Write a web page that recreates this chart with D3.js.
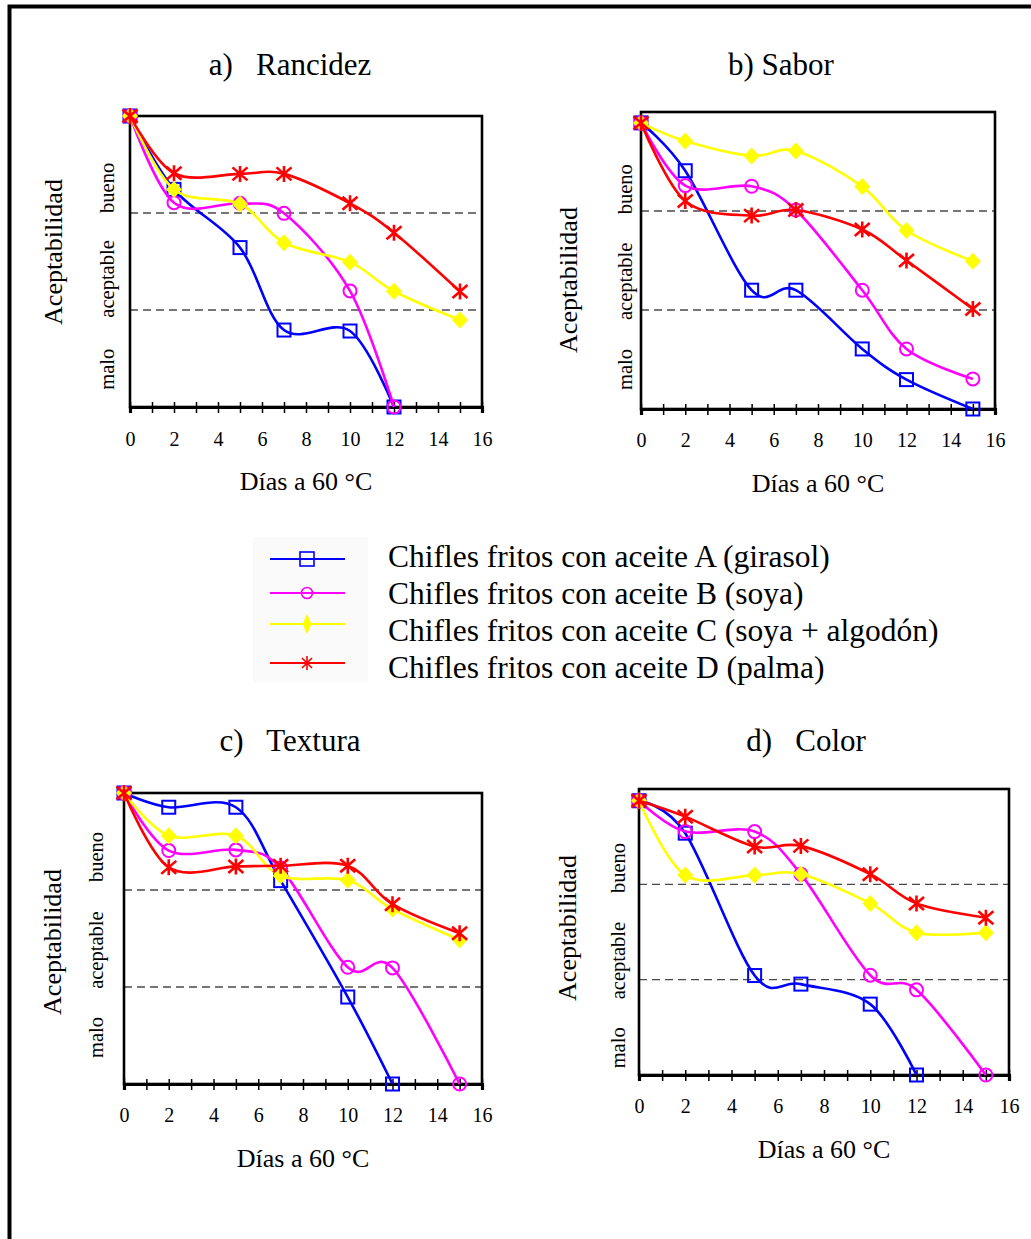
<!DOCTYPE html>
<html>
<head>
<meta charset="utf-8">
<script src="https://cdn.jsdelivr.net/npm/d3@7"></script>
<style>
  body { margin: 0; background: #fff; }
  svg { display: block; }
  text { font-family: "Liberation Serif", "Times New Roman", serif; fill: #000; white-space: pre; }
</style>
</head>
<body>
<svg id="chart" width="1031" height="1239"></svg>
<script>
// Sampling days (x) and axis ticks
const days = [0, 2, 5, 7, 10, 12, 15];
const xTickValues = [0, 2, 4, 6, 8, 10, 12, 14, 16];
const xMinorTicks = d3.range(0, 17);

// Acceptability bands and their limits on the 0-9 score
const levelLabels = ["bueno", "aceptable", "malo"];
const levelCuts = [6, 3];

// Series
const seriesLabels = [
  "Chifles fritos con aceite A (girasol)",
  "Chifles fritos con aceite B (soya)",
  "Chifles fritos con aceite C (soya + algodón)",
  "Chifles fritos con aceite D (palma)"
];
const seriesColors = ["#0000ff", "#ff00ff", "#ffff00", "#ff0000"];
const seriesShapes = ["square", "circle", "diamond", "star"];

// a) Rancidez
const rancidezA = [9, 6.73, 4.93, 2.38, 2.35, 0];
const rancidezB = [9, 6.32, 6.30, 5.99, 3.59, 0];
const rancidezC = [9, 6.73, 6.28, 5.08, 4.48, 3.58, 2.69];
const rancidezD = [9, 7.23, 7.21, 7.21, 6.30, 5.39, 3.57];
// b) Sabor
const saborA = [8.67, 7.22, 3.60, 3.60, 1.82, 0.89, 0];
const saborB = [8.67, 6.77, 6.75, 6.03, 3.60, 1.82, 0.91];
const saborC = [8.67, 8.12, 7.67, 7.82, 6.74, 5.41, 4.48];
const saborD = [8.67, 6.30, 5.86, 6.03, 5.44, 4.50, 3.03];
// c) Textura
const texturaA = [9, 8.56, 8.56, 6.29, 2.69, 0];
const texturaB = [9, 7.22, 7.24, 6.68, 3.61, 3.59, 0];
const texturaC = [9, 7.68, 7.68, 6.44, 6.30, 5.41, 4.46];
const texturaD = [9, 6.70, 6.73, 6.75, 6.75, 5.56, 4.66];
// d) Color
const colorA = [8.63, 7.61, 3.13, 2.86, 2.23, 0];
const colorB = [8.63, 7.66, 7.66, 6.32, 3.14, 2.68, 0];
const colorC = [8.63, 6.29, 6.29, 6.32, 5.40, 4.48, 4.48];
const colorD = [8.63, 8.13, 7.19, 7.21, 6.32, 5.40, 4.95];

// Panel layout
const panels = [
  { title: "a)   Rancidez", series: [rancidezA, rancidezB, rancidezC, rancidezD],
    x0: 130, x1: 482, y0: 116, y1: 407, titleX: 290, titleY: 75,
    yTitle: [53, 252], catX: 107, catPos: [0.247, 0.56, 0.87], tickDy: 39 },
  { title: "b) Sabor", series: [saborA, saborB, saborC, saborD],
    x0: 641, x1: 995, y0: 112, y1: 409, titleX: 781, titleY: 75,
    yTitle: [568, 280], catX: 625, catPos: [0.26, 0.57, 0.867], tickDy: 38 },
  { title: "c)   Textura", series: [texturaA, texturaB, texturaC, texturaD],
    x0: 124, x1: 482, y0: 793, y1: 1084, titleX: 290, titleY: 751,
    yTitle: [52, 942], catX: 96, catPos: [0.22, 0.54, 0.84], tickDy: 38 },
  { title: "d)   Color", series: [colorA, colorB, colorC, colorD],
    x0: 639, x1: 1009, y0: 789, y1: 1075, titleX: 806, titleY: 751,
    yTitle: [567, 928], catX: 618, catPos: [0.276, 0.6, 0.905], tickDy: 38 }
];

const svg = d3.select("#chart");

// Outer border (runs off the right and bottom edges)
svg.append("rect")
  .attr("x", 9.5).attr("y", 6.5)
  .attr("width", 1060).attr("height", 1280)
  .attr("fill", "none").attr("stroke", "#000").attr("stroke-width", 4);

function drawMarker(g, shape, color) {
  if (shape === "square") {
    g.append("rect").attr("x", -6.5).attr("y", -6.5)
      .attr("width", 13).attr("height", 13)
      .attr("fill", "none").attr("stroke", color).attr("stroke-width", 2);
  } else if (shape === "circle") {
    g.append("circle").attr("r", 6.5)
      .attr("fill", "none").attr("stroke", color).attr("stroke-width", 2);
  } else if (shape === "diamond") {
    g.append("path").attr("d", "M0,-8.5L8,0L0,8.5L-8,0Z")
      .attr("fill", color).attr("stroke", "none");
  } else {
    g.append("path")
      .attr("d", "M0,-8L0,8M-7.5,-6.5L7.5,6.5M-7.5,6.5L7.5,-6.5")
      .attr("fill", "none").attr("stroke", color).attr("stroke-width", 2.6);
  }
}

panels.forEach(p => {
  const x = d3.scaleLinear().domain([0, 16]).range([p.x0, p.x1]);
  const y = d3.scaleLinear().domain([0, 9]).range([p.y1, p.y0]);
  const g = svg.append("g");

  // title
  g.append("text").attr("x", p.titleX).attr("y", p.titleY)
    .attr("text-anchor", "middle").attr("font-size", 31).text(p.title);

  // band limits
  g.selectAll("line.cut").data(levelCuts).join("line")
    .attr("x1", p.x0).attr("x2", p.x1)
    .attr("y1", d => y(d)).attr("y2", d => y(d))
    .attr("stroke", "#4a4a4a").attr("stroke-width", 1.3)
    .attr("stroke-dasharray", "8,5");

  // frame
  g.append("rect").attr("x", p.x0).attr("y", p.y0)
    .attr("width", p.x1 - p.x0).attr("height", p.y1 - p.y0)
    .attr("fill", "none").attr("stroke", "#000").attr("stroke-width", 2.6);

  // x axis: tick marks at every day, labels every second day
  const axis = d3.axisBottom(x).tickValues(xMinorTicks)
    .tickFormat(d => (xTickValues.includes(d) ? d : ""));
  const ax = g.append("g").attr("transform", `translate(0,${p.y1})`).call(axis);
  ax.select(".domain").attr("stroke", "#000").attr("stroke-width", 3.2);
  ax.selectAll(".tick line").attr("y1", -5).attr("y2", 6)
    .attr("stroke", "#000").attr("stroke-width", 1.5);
  ax.selectAll(".tick text").attr("y", p.tickDy).attr("dy", null)
    .attr("font-size", 20).attr("fill", "#000")
    .style("font-family", '"Liberation Serif", "Times New Roman", serif');

  // x title
  g.append("text").attr("x", (p.x0 + p.x1) / 2).attr("y", p.y1 + 83)
    .attr("text-anchor", "middle").attr("font-size", 26).text("Días a 60 °C");

  // y title
  g.append("text")
    .attr("transform", `translate(${p.yTitle[0]},${p.yTitle[1]}) rotate(-90)`)
    .attr("text-anchor", "middle").attr("dominant-baseline", "central")
    .attr("font-size", 26).text("Aceptabilidad");

  // band labels
  levelLabels.forEach((lab, i) => {
    const cy = p.y0 + p.catPos[i] * (p.y1 - p.y0);
    g.append("text")
      .attr("transform", `translate(${p.catX},${cy}) rotate(-90)`)
      .attr("text-anchor", "middle").attr("dominant-baseline", "central")
      .attr("font-size", 20.5).text(lab);
  });

  // series
  const line = d3.line()
    .x((d, i) => x(days[i]))
    .y(d => y(d))
    .curve(d3.curveCatmullRom.alpha(0));

  p.series.forEach((vals, s) => {
    const sg = g.append("g");
    sg.append("path").attr("d", line(vals))
      .attr("fill", "none").attr("stroke", seriesColors[s]).attr("stroke-width", 2.6);
    vals.forEach((v, i) => {
      const mg = sg.append("g").attr("transform", `translate(${x(days[i])},${y(v)})`);
      drawMarker(mg, seriesShapes[s], seriesColors[s]);
    });
  });
});

// Legend
const legend = svg.append("g");
legend.append("rect").attr("x", 253).attr("y", 537).attr("width", 115).attr("height", 145)
  .attr("fill", "#fafafa");
const legendMarkerY = [559, 593, 624, 663];
const legendTextY = [567, 604, 641, 678];
seriesLabels.forEach((lab, s) => {
  const ly = legendMarkerY[s];
  legend.append("line").attr("x1", 270).attr("x2", 345).attr("y1", ly).attr("y2", ly)
    .attr("stroke", seriesColors[s]).attr("stroke-width", 1.8);
  const mg = legend.append("g").attr("transform", `translate(307,${ly})`);
  if (seriesShapes[s] === "diamond") {
    mg.append("path").attr("d", "M0,-10L4.5,0L0,10L-4.5,0Z").attr("fill", seriesColors[s]);
  } else if (seriesShapes[s] === "star") {
    mg.append("path")
      .attr("d", "M0,-7L0,7M-5,-5L5,5M-5,5L5,-5")
      .attr("stroke", seriesColors[s]).attr("stroke-width", 1.6).attr("fill", "none");
    mg.append("circle").attr("r", 2.2).attr("fill", seriesColors[s]);
  } else if (seriesShapes[s] === "square") {
    mg.append("rect").attr("x", -7).attr("y", -7).attr("width", 14).attr("height", 14)
      .attr("fill", "none").attr("stroke", seriesColors[s]).attr("stroke-width", 1.6);
  } else {
    mg.append("circle").attr("r", 5.5)
      .attr("fill", "none").attr("stroke", seriesColors[s]).attr("stroke-width", 1.6);
  }
  legend.append("text").attr("x", 388).attr("y", legendTextY[s])
    .attr("font-size", 31.5).text(lab);
});
</script>
</body>
</html>
